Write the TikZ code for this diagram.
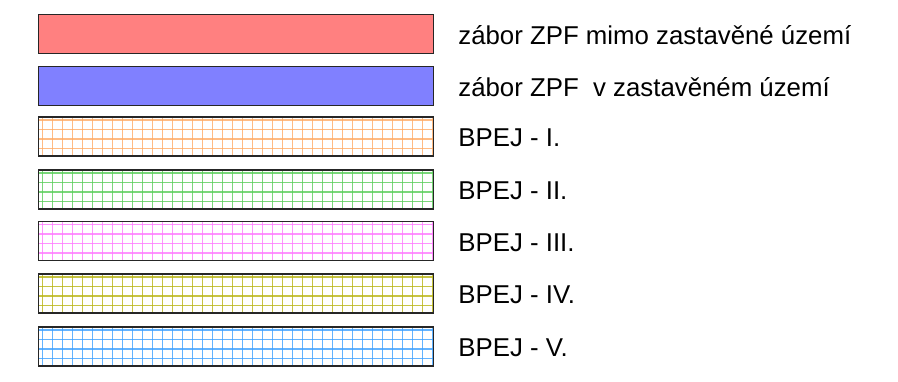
\documentclass[tikz,border=0pt]{standalone}
\usepackage{fontspec}
\setmainfont{Liberation Sans}
\definecolor{cRed}{RGB}{255,128,128}
\definecolor{cBlue}{RGB}{128,128,255}
\definecolor{gOrange}{RGB}{255,170,100}
\definecolor{gGreen}{RGB}{90,205,90}
\definecolor{gPink}{RGB}{255,120,255}
\definecolor{gOlive}{RGB}{185,180,20}
\definecolor{gBlue}{RGB}{60,160,255}
\tikzset{
  legbox/.style={draw=black!85, line width=1.2pt, minimum width=395pt, minimum height=39pt, inner sep=0pt, anchor=north west},
  gridbox/.style={legbox, path picture={
      \foreach \gx in {4,14,...,394} \draw[#1, line width=1.4pt, opacity=0.8] ([xshift=\gx pt]path picture bounding box.north west) -- ++(0,-40pt);
      \foreach \gy in {3,12.5,...,38} \draw[#1, line width=1.4pt, opacity=0.8] ([yshift=-\gy pt]path picture bounding box.north west) -- ++(396pt,0);
  }},
  legtext/.style={anchor=base west, font=\fontsize{25.8pt}{30pt}\selectfont, inner sep=0pt}
}
\begin{document}
\begin{tikzpicture}[x=1pt,y=1pt]
\useasboundingbox (0,0) rectangle (898,-382);
\node[legbox, fill=cRed] (b1) at (38,-14) {};
\node[legbox, fill=cBlue] (b2) at (38,-66) {};
\node[gridbox=gOrange] (b3) at (38,-116.5) {};
\node[gridbox=gGreen] (b4) at (38,-169.5) {};
\node[gridbox=gPink] (b5) at (38,-221) {};
\node[gridbox=gOlive] (b6) at (38,-273.5) {};
\node[gridbox=gBlue] (b7) at (38,-326.5) {};
\node[legtext] (t1) at ([xshift=24pt,yshift=-10.3pt]b1.east) {zábor ZPF mimo zastavěné území};
\node[legtext] (t2) at ([xshift=24pt,yshift=-10.3pt]b2.east) {zábor ZPF\ \ v zastavěném území};
\node[legtext] (t3) at ([xshift=24pt,yshift=-10.3pt]b3.east) {BPEJ - I.};
\node[legtext] (t4) at ([xshift=24pt,yshift=-10.3pt]b4.east) {BPEJ - II.};
\node[legtext] (t5) at ([xshift=24pt,yshift=-10.3pt]b5.east) {BPEJ - III.};
\node[legtext] (t6) at ([xshift=24pt,yshift=-10.3pt]b6.east) {BPEJ - IV.};
\node[legtext] (t7) at ([xshift=24pt,yshift=-10.3pt]b7.east) {BPEJ - V.};
\end{tikzpicture}
\end{document}
